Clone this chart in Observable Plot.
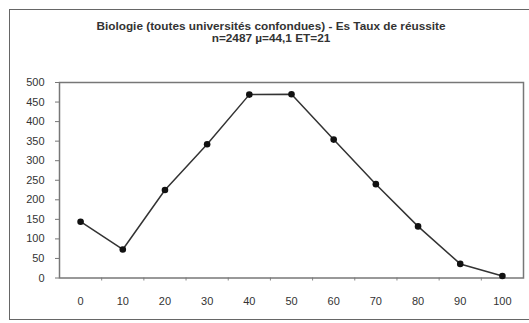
<!DOCTYPE html>
<html>
<head>
<meta charset="utf-8">
<script src="https://cdn.jsdelivr.net/npm/d3@7"></script>
<script src="https://cdn.jsdelivr.net/npm/@observablehq/plot@0.6"></script>
<style>
  html, body { margin: 0; padding: 0; background: #fff; }
  #wrap { position: relative; width: 529px; height: 323px; overflow: hidden; font-family: "Liberation Sans", Arial, sans-serif; }
  #frame { position: absolute; left: 9px; top: 9px; width: 530px; height: 311px; border: 1.5px solid #666; box-sizing: border-box; }
  #title { position: absolute; left: 21px; width: 500px; top: 19.5px; text-align: center; font-size: 11.8px; font-weight: bold; color: #333; line-height: 12.6px; }
  #chart { position: absolute; left: 0; top: 0; }
</style>
</head>
<body>
<div id="wrap">
  <div id="frame"></div>
  <div id="chart"></div>
  <div id="title"></div>
</div>
<script>
const titleLines = ["Biologie (toutes universités confondues) - Es Taux de réussite", "n=2487 µ=44,1 ET=21"];
const scores = [0, 10, 20, 30, 40, 50, 60, 70, 80, 90, 100];
const counts = [144, 73, 225, 342, 469, 470, 354, 240, 132, 36, 5];
const yTicks = [0, 50, 100, 150, 200, 250, 300, 350, 400, 450, 500];
const xBoundaries = [5, 15, 25, 35, 45, 55, 65, 75, 85, 95];

document.getElementById("title").innerHTML = titleLines.map(t => `<div>${t}</div>`).join("");

const data = scores.map((s, i) => ({score: s, count: counts[i]}));

const chart = Plot.plot({
  width: 529,
  height: 323,
  marginLeft: 59,
  marginRight: 6,
  marginTop: 82,
  marginBottom: 45.5,
  style: {fontFamily: "'Liberation Sans', Arial, sans-serif", fontSize: "11px", color: "#333", background: "transparent"},
  x: {domain: [-5, 105], label: null},
  y: {domain: [0, 500], label: null},
  marks: [
    Plot.axisY(yTicks, {tickSize: 4, tickPadding: 11, stroke: "#777", label: null}),
    Plot.axisX(scores, {tickSize: 0, tickPadding: 19, label: null}),
    Plot.axisX(xBoundaries, {tickSize: 3, tickFormat: () => "", stroke: "#888", label: null}),
    Plot.frame({stroke: "#777", strokeWidth: 1.5}),
    Plot.line(data, {x: "score", y: "count", stroke: "#333", strokeWidth: 1.5}),
    Plot.dot(data, {x: "score", y: "count", r: 3.3, fill: "#111", stroke: "none"})
  ]
});
document.getElementById("chart").appendChild(chart);
</script>
</body>
</html>
